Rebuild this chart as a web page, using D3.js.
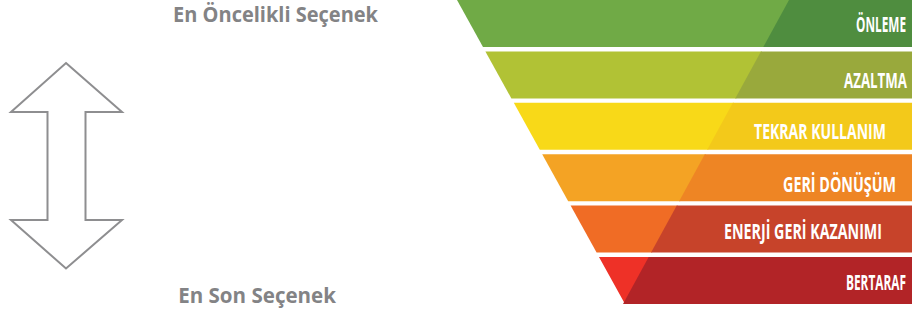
<!DOCTYPE html>
<html>
<head>
<meta charset="utf-8">
<script src="https://cdn.jsdelivr.net/npm/d3@7"></script>
<style>
  html, body { margin: 0; padding: 0; background: #ffffff; }
  svg { display: block; }
</style>
</head>
<body>
<svg id="chart" width="912" height="313"></svg>
<script>
// ---- data ----
const categories = ["ÖNLEME", "AZALTMA", "TEKRAR KULLANIM", "GERİ DÖNÜŞÜM", "ENERJİ GERİ KAZANIMI", "BERTARAF"];
const lightColors = ["#70aa46", "#b1c235", "#f8d918", "#f4a324", "#f06c25", "#ee3127"];
const darkColors  = ["#4f8d3f", "#99a93c", "#f3c91a", "#ee8524", "#c7432a", "#b22427"];
const topLabel = "En Öncelikli Seçenek";
const bottomLabel = "En Son Seçenek";

// ---- layout constants (not data) ----
const labelEnd = [906, 907, 886, 896, 882, 906];
const labelWidth = [50, 63, 132, 113, 158, 60];
const labelBaseline = [32, 88, 139, 192, 239, 290];

const svg = d3.select("#chart");

const y = d3.scaleBand().domain(categories).range([0, 304]).paddingInner(0.084);
// funnel edges as linear functions of y
const leftEdge = d3.scaleLinear().domain([0, 304]).range([457, 625]);
const splitEdge = d3.scaleLinear().domain([0, 304]).range([789, 623]);
const rightX = 912;

const g = svg.append("g");
const band = g.selectAll("g.band").data(categories).join("g").attr("class", "band");

band.append("path")
  .attr("fill", (d, i) => lightColors[i])
  .attr("d", d => {
    const y0 = y(d), y1 = y(d) + y.bandwidth();
    return d3.line()([[leftEdge(y0), y0], [splitEdge(y0) + 1, y0], [splitEdge(y1) + 1, y1], [leftEdge(y1), y1]]) + "Z";
  });

band.append("path")
  .attr("fill", (d, i) => darkColors[i])
  .attr("d", d => {
    const y0 = y(d), y1 = y(d) + y.bandwidth();
    return d3.line()([[splitEdge(y0), y0], [rightX, y0], [rightX, y1], [splitEdge(y1), y1]]) + "Z";
  });

// condensed labels: draw at natural width, then squeeze horizontally to the measured width
function fitText(sel, xEnd, width) {
  sel.each(function(d, i) {
    const t = d3.select(this);
    const natural = this.getComputedTextLength();
    const w = typeof width === "function" ? width(d, i) : width;
    const xe = typeof xEnd === "function" ? xEnd(d, i) : xEnd;
    const sx = w / natural;
    const yy = +t.attr("y");
    t.attr("x", 0).attr("y", 0)
     .attr("text-anchor", "end")
     .attr("transform", `translate(${xe},${yy}) scale(${sx},1)`);
  });
}

band.append("text")
  .attr("y", (d, i) => labelBaseline[i])
  .attr("fill", "#ffffff")
  .style("font-family", "'Open Sans', sans-serif")
  .style("font-weight", "bold")
  .style("font-size", "21px")
  .text(d => d)
  .call(fitText, (d, i) => labelEnd[i], (d, i) => labelWidth[i]);

// ---- double arrow ----
const arrowPts = [
  [66, 63], [122, 112], [85.5, 112], [85.5, 220], [122, 220],
  [66, 268.5], [11, 220], [47.5, 220], [47.5, 112], [11, 112]
];
svg.append("path")
  .attr("d", d3.line()(arrowPts) + "Z")
  .attr("fill", "none")
  .attr("stroke", "#8e8e90")
  .attr("stroke-width", 2)
  .attr("stroke-linejoin", "miter");

// ---- side labels ----
svg.append("text")
  .attr("y", 22)
  .attr("fill", "#838385")
  .style("font-family", "'Open Sans', sans-serif")
  .style("font-weight", "bold")
  .style("font-size", "21px")
  .text(topLabel)
  .call(fitText, 378, 205);

svg.append("text")
  .attr("y", 303)
  .attr("fill", "#838385")
  .style("font-family", "'Open Sans', sans-serif")
  .style("font-weight", "bold")
  .style("font-size", "21px")
  .text(bottomLabel)
  .call(fitText, 336, 158);
</script>
</body>
</html>
